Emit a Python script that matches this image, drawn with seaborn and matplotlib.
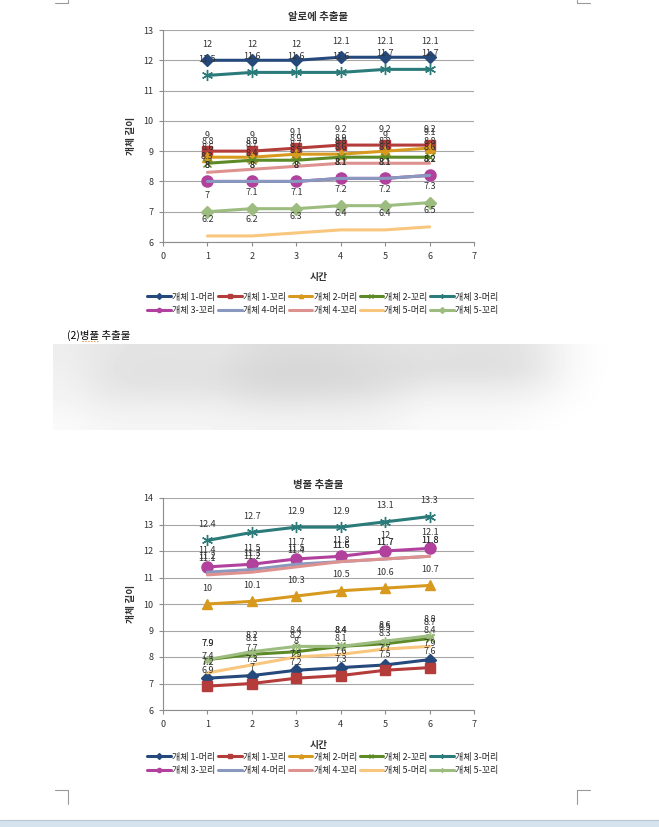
import matplotlib
matplotlib.use("Agg")
import matplotlib.pyplot as plt
import numpy as np
import pandas as pd
import seaborn as sns
from matplotlib.lines import Line2D
from matplotlib.patches import Rectangle

TIME = [1, 2, 3, 4, 5, 6]
SERIES = ["개체 1-머리", "개체 1-꼬리", "개체 2-머리", "개체 2-꼬리", "개체 3-머리",
          "개체 3-꼬리", "개체 4-머리", "개체 4-꼬리", "개체 5-머리", "개체 5-꼬리"]

# 알로에 추출물
ALOE_1H = [12, 12, 12, 12.1, 12.1, 12.1]
ALOE_1T = [9, 9, 9.1, 9.2, 9.2, 9.2]
ALOE_2H = [8.8, 8.8, 8.9, 8.9, 9, 9.1]
ALOE_2T = [8.6, 8.7, 8.7, 8.8, 8.8, 8.8]
ALOE_3H = [11.5, 11.6, 11.6, 11.6, 11.7, 11.7]
ALOE_3T = [8, 8, 8, 8.1, 8.1, 8.2]
ALOE_4H = [8, 8, 8, 8.1, 8.1, 8.2]
ALOE_4T = [8.3, 8.4, 8.5, 8.6, 8.6, 8.6]
ALOE_5H = [6.2, 6.2, 6.3, 6.4, 6.4, 6.5]
ALOE_5T = [7, 7.1, 7.1, 7.2, 7.2, 7.3]

# 병풀 추출물
BP_1H = [7.2, 7.3, 7.5, 7.6, 7.7, 7.9]
BP_1T = [6.9, 7, 7.2, 7.3, 7.5, 7.6]
BP_2H = [10, 10.1, 10.3, 10.5, 10.6, 10.7]
BP_2T = [7.9, 8.1, 8.2, 8.4, 8.5, 8.7]
BP_3H = [12.4, 12.7, 12.9, 12.9, 13.1, 13.3]
BP_3T = [11.4, 11.5, 11.7, 11.8, 12, 12.1]
BP_4H = [11.2, 11.3, 11.5, 11.6, 11.7, 11.8]
BP_4T = [11.1, 11.2, 11.4, 11.6, 11.7, 11.8]
BP_5H = [7.4, 7.7, 8, 8.1, 8.3, 8.4]
BP_5T = [7.9, 8.2, 8.4, 8.4, 8.6, 8.8]

COLORS = ["#26497c", "#b43c3a", "#d89a1e", "#5c8a26", "#2b7b7a",
          "#b1419d", "#8898bf", "#dd9290", "#f8c67c", "#9cbc80"]
STAR = (6, 2, 0)
MARK_ALOE = ["D", "s", "^", "x", STAR, "o", None, None, None, "D"]
MARK_BP = ["D", "s", "^", "x", STAR, "o", None, None, None, STAR]
MSIZE = [6, 7, 7, 6, 8, 8, 0, 0, 0, 6]

# grey levels of the blurred picture between the charts
BLUR = np.array([
    [0.93, 0.90, 0.89, 0.89, 0.90, 0.87, 0.86, 0.86, 0.87, 0.88, 0.89, 0.88, 0.88, 0.90, 0.97, 1.00],
    [0.94, 0.89, 0.88, 0.88, 0.88, 0.85, 0.84, 0.84, 0.85, 0.86, 0.87, 0.87, 0.87, 0.89, 0.97, 1.00],
    [0.95, 0.90, 0.89, 0.89, 0.89, 0.86, 0.85, 0.85, 0.86, 0.88, 0.92, 0.92, 0.92, 0.93, 0.98, 1.00],
    [0.96, 0.93, 0.93, 0.93, 0.93, 0.91, 0.90, 0.91, 0.91, 0.93, 0.96, 0.96, 0.96, 0.97, 0.99, 1.00],
    [0.98, 0.96, 0.96, 0.96, 0.96, 0.95, 0.95, 0.95, 0.95, 0.96, 0.98, 0.98, 0.98, 0.99, 1.00, 1.00],
])

W, H = 659, 827


def frac_box(x0, y0, x1, y1):
    return [x0 / W, 1 - y1 / H, (x1 - x0) / W, (y1 - y0) / H]


def draw_chart(ax, data, markers, title, ymax, legend_y):
    df = pd.DataFrame({
        "시간": TIME * len(SERIES),
        "길이": np.concatenate(data),
        "개체": np.repeat(SERIES, len(TIME)),
    })
    for i, name in enumerate(SERIES):
        sub = df[df["개체"] == name]
        kw = dict(color=COLORS[i], lw=2.2, legend=False, ax=ax, zorder=3 + i * 0.01)
        if markers[i] is not None:
            kw.update(marker=markers[i], markersize=MSIZE[i], markeredgecolor=COLORS[i],
                      markeredgewidth=1.0, markerfacecolor=COLORS[i])
        sns.lineplot(data=sub, x="시간", y="길이", **kw)
        for x, v in zip(sub["시간"], sub["길이"]):
            ax.annotate(f"{v:g}", (x, v), xytext=(0, 11.5), textcoords="offset points",
                        ha="center", va="center", fontsize=6.5, color="#333333", zorder=10)

    ax.set_xlim(0, 7)
    ax.set_ylim(6, ymax)
    ax.set_xticks(range(0, 8))
    ax.set_yticks(range(6, ymax + 1))
    ax.grid(axis="y", color="#a6a6a6", lw=0.8)
    ax.grid(axis="x", visible=False)
    for s in ["top", "right"]:
        ax.spines[s].set_visible(False)
    for s in ["left", "bottom"]:
        ax.spines[s].set_color("#8c8c8c")
        ax.spines[s].set_linewidth(0.8)
    ax.tick_params(axis="both", direction="out", length=3, width=0.8, color="#8c8c8c",
                   labelsize=6.5, labelcolor="#333333", pad=4, left=True, bottom=True)
    ax.set_title(title, fontsize=7.5, fontweight="bold", color="#333333", pad=7)
    ax.set_xlabel("시간", fontsize=7, fontweight="bold", color="#333333", labelpad=8)
    ax.set_ylabel("개체 길이", fontsize=7, fontweight="bold", color="#333333", labelpad=5)

    handles = [Line2D([], [], color=COLORS[i], lw=2.2,
                      marker=markers[i] if markers[i] is not None else None,
                      markersize=3, markeredgecolor=COLORS[i]) for i in range(len(SERIES))]
    order = [0, 5, 1, 6, 2, 7, 3, 8, 4, 9]
    ax.figure.legend([handles[k] for k in order], [SERIES[k] for k in order],
                     loc="upper center", bbox_to_anchor=(0.49, 1 - legend_y / H), ncol=5,
                     frameon=False, fontsize=6.5, handlelength=2.6, handletextpad=0.15,
                     columnspacing=0.3, labelspacing=0.45, borderaxespad=0)


sns.set_theme(style="white")
plt.rcParams["font.family"] = ["Noto Sans CJK KR", "DejaVu Sans"]

fig = plt.figure(figsize=(W / 100, H / 100), dpi=100)
fig.patch.set_facecolor("white")

ax1 = fig.add_axes(frac_box(163, 30, 474, 242))
draw_chart(ax1, [ALOE_1H, ALOE_1T, ALOE_2H, ALOE_2T, ALOE_3H,
                 ALOE_3T, ALOE_4H, ALOE_4T, ALOE_5H, ALOE_5T],
           MARK_ALOE, "알로에 추출물", 13, 289)

ax2 = fig.add_axes(frac_box(163, 498, 474, 710))
draw_chart(ax2, [BP_1H, BP_1T, BP_2H, BP_2T, BP_3H,
                 BP_3T, BP_4H, BP_4T, BP_5H, BP_5T],
           MARK_BP, "병풀 추출물", 14, 749)

# document text between charts
fig.text(67 / W, 1 - 335 / H, "(2)병풀 추출물", fontsize=7.5, color="black", va="center")
fig.add_artist(Line2D([82 / W, 98 / W], [1 - 341 / H, 1 - 341 / H], color="#e07b1a",
                      lw=0.8, ls=":"))

# blurred picture
axb = fig.add_axes(frac_box(53, 344, 622, 430))
axb.imshow(BLUR, cmap="gray", vmin=0, vmax=1, aspect="auto", interpolation="bicubic")
axb.axis("off")

# page corner marks
for (xa, xb, xv, y0, y1, yh) in [(55, 68, 68, 0, 3, 3), (577, 590, 577, 0, 3, 3),
                                  (55, 68, 68, 790, 804, 790), (577, 590, 577, 790, 804, 790)]:
    fig.add_artist(Line2D([xa / W, xb / W], [1 - yh / H, 1 - yh / H], color="#9a9a9a", lw=0.8))
    fig.add_artist(Line2D([xv / W, xv / W], [1 - y0 / H, 1 - y1 / H], color="#9a9a9a", lw=0.8))

# bottom status strip
fig.add_artist(Rectangle((0, 0), 1, 7 / H, transform=fig.transFigure, facecolor="#d5e3ee",
                         edgecolor="none"))
fig.add_artist(Line2D([0, 1], [7 / H, 7 / H], color="#b9c7d2", lw=0.8))

fig.savefig("out.png", dpi=100)
